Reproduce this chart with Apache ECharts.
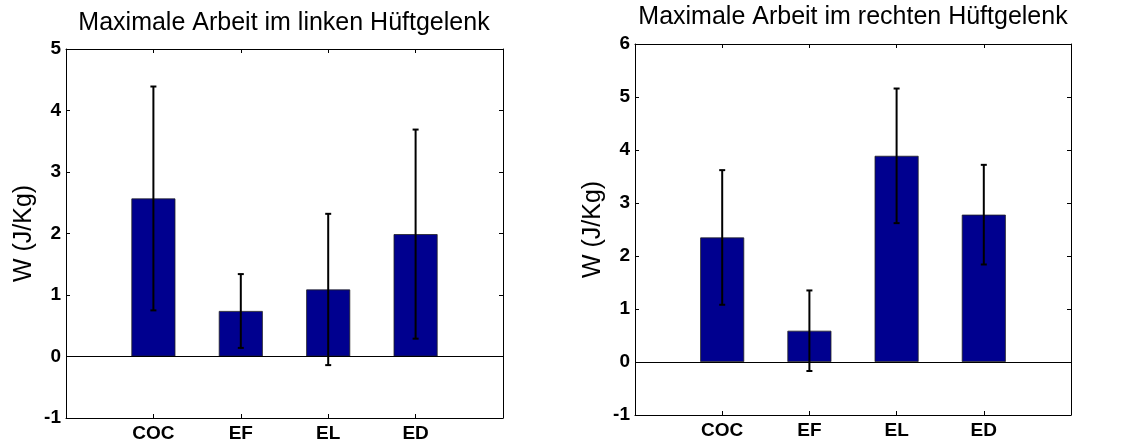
<!DOCTYPE html>
<html>
<head>
<meta charset="utf-8">
<script src="https://cdn.jsdelivr.net/npm/echarts@6/dist/echarts.min.js"></script>
<style>
  html, body { margin: 0; padding: 0; background: #fff; }
  #chart { width: 1123px; height: 443px; }
</style>
</head>
<body>
<div id="chart"></div>
<script>
// Groups shown on both panels
const categories = ['COC', 'EF', 'EL', 'ED'];

// Left hip: mean maximal work and standard deviation (J/Kg)
const leftMeans = [2.57, 0.74, 1.09, 1.99];
const leftErrors = [1.82, 0.60, 1.23, 1.70];

// Right hip: mean maximal work and standard deviation (J/Kg)
const rightMeans = [2.35, 0.59, 3.89, 2.78];
const rightErrors = [1.27, 0.76, 1.27, 0.94];

// Panel titles and axis text
const titles = ['Maximale Arbeit im linken Hüftgelenk', 'Maximale Arbeit im rechten Hüftgelenk'];
const yLabel = 'W (J/Kg)';
const leftYRange = [-1, 5];
const rightYRange = [-1, 6];

const FONT = '"Liberation Sans", Arial, sans-serif';
const BAR_COLOR = '#00008f';

const chart = echarts.init(document.getElementById('chart'), null, { renderer: 'canvas' });

function xAxes(gridIndex) {
  const base = {
    type: 'value', gridIndex, min: 0, max: 5, interval: 1,
    splitLine: { show: false },
    axisLine: { show: true, onZero: false, lineStyle: { color: '#000', width: 1 } },
    axisTick: { show: true, inside: true, length: 4, lineStyle: { color: '#000' } }
  };
  return [
    Object.assign({}, base, {
      position: 'bottom',
      axisLabel: {
        show: true, margin: 6, color: '#000', fontFamily: FONT, fontWeight: 'bold', fontSize: 19,
        formatter: v => categories[v - 1] || ''
      }
    }),
    Object.assign({}, base, { position: 'top', axisLabel: { show: false } })
  ];
}

function yAxes(gridIndex, range) {
  const base = {
    type: 'value', gridIndex, min: range[0], max: range[1], interval: 1,
    splitLine: { show: false },
    axisLine: { show: true, onZero: false, lineStyle: { color: '#000', width: 1 } },
    axisTick: { show: true, inside: true, length: 4, lineStyle: { color: '#000' } }
  };
  return [
    Object.assign({}, base, {
      position: 'left',
      name: yLabel, nameLocation: 'middle', nameRotate: 90, nameGap: 29,
      nameTextStyle: { color: '#000', fontFamily: FONT, fontSize: 25 },
      axisLabel: { show: true, margin: 5, color: '#000', fontFamily: FONT, fontWeight: 'bold', fontSize: 19 }
    }),
    Object.assign({}, base, { position: 'right', axisLabel: { show: false } })
  ];
}

function barSeries(axisIndex, means) {
  return {
    type: 'bar',
    xAxisIndex: axisIndex, yAxisIndex: axisIndex,
    barWidth: 44,
    data: means.map((m, i) => [i + 1, m]),
    itemStyle: { color: BAR_COLOR, borderColor: '#222', borderWidth: 0.8 },
    markLine: {
      silent: true, symbol: 'none', label: { show: false },
      lineStyle: { color: '#000', width: 1, type: 'solid' },
      data: [[{ coord: [0, 0] }, { coord: [5, 0] }]]
    },
    z: 2
  };
}

function errorSeries(axisIndex, means, errors) {
  return {
    type: 'custom',
    xAxisIndex: axisIndex, yAxisIndex: axisIndex,
    data: means.map((m, i) => [i + 1, m - errors[i], m + errors[i]]),
    encode: { x: 0, y: [1, 2] },
    renderItem: function (params, api) {
      const x = api.value(0);
      const lo = api.coord([x, api.value(1)]);
      const hi = api.coord([x, api.value(2)]);
      const cap = 3;
      const style = { stroke: '#000', lineWidth: 2 };
      return {
        type: 'group',
        children: [
          { type: 'line', shape: { x1: lo[0], y1: lo[1], x2: hi[0], y2: hi[1] }, style },
          { type: 'line', shape: { x1: hi[0] - cap, y1: hi[1], x2: hi[0] + cap, y2: hi[1] }, style },
          { type: 'line', shape: { x1: lo[0] - cap, y1: lo[1], x2: lo[0] + cap, y2: lo[1] }, style }
        ]
      };
    },
    z: 5
  };
}

const option = {
  animation: false,
  backgroundColor: '#fff',
  title: [
    {
      text: titles[0], left: 284, top: 11, textAlign: 'center', padding: 0,
      textStyle: { color: '#000', fontFamily: FONT, fontSize: 25, fontWeight: 'normal' }
    },
    {
      text: titles[1], left: 853, top: 5, textAlign: 'center', padding: 0,
      textStyle: { color: '#000', fontFamily: FONT, fontSize: 25, fontWeight: 'normal' }
    }
  ],
  grid: [
    { left: 66, top: 49, width: 437, height: 370, containLabel: false },
    { left: 635, top: 44, width: 436, height: 371, containLabel: false }
  ],
  xAxis: xAxes(0).concat(xAxes(1)),
  yAxis: yAxes(0, leftYRange).concat(yAxes(1, rightYRange)),
  series: [
    barSeries(0, leftMeans),
    errorSeries(0, leftMeans, leftErrors),
    barSeries(2, rightMeans),
    errorSeries(2, rightMeans, rightErrors)
  ]
};

chart.setOption(option);
</script>
</body>
</html>
